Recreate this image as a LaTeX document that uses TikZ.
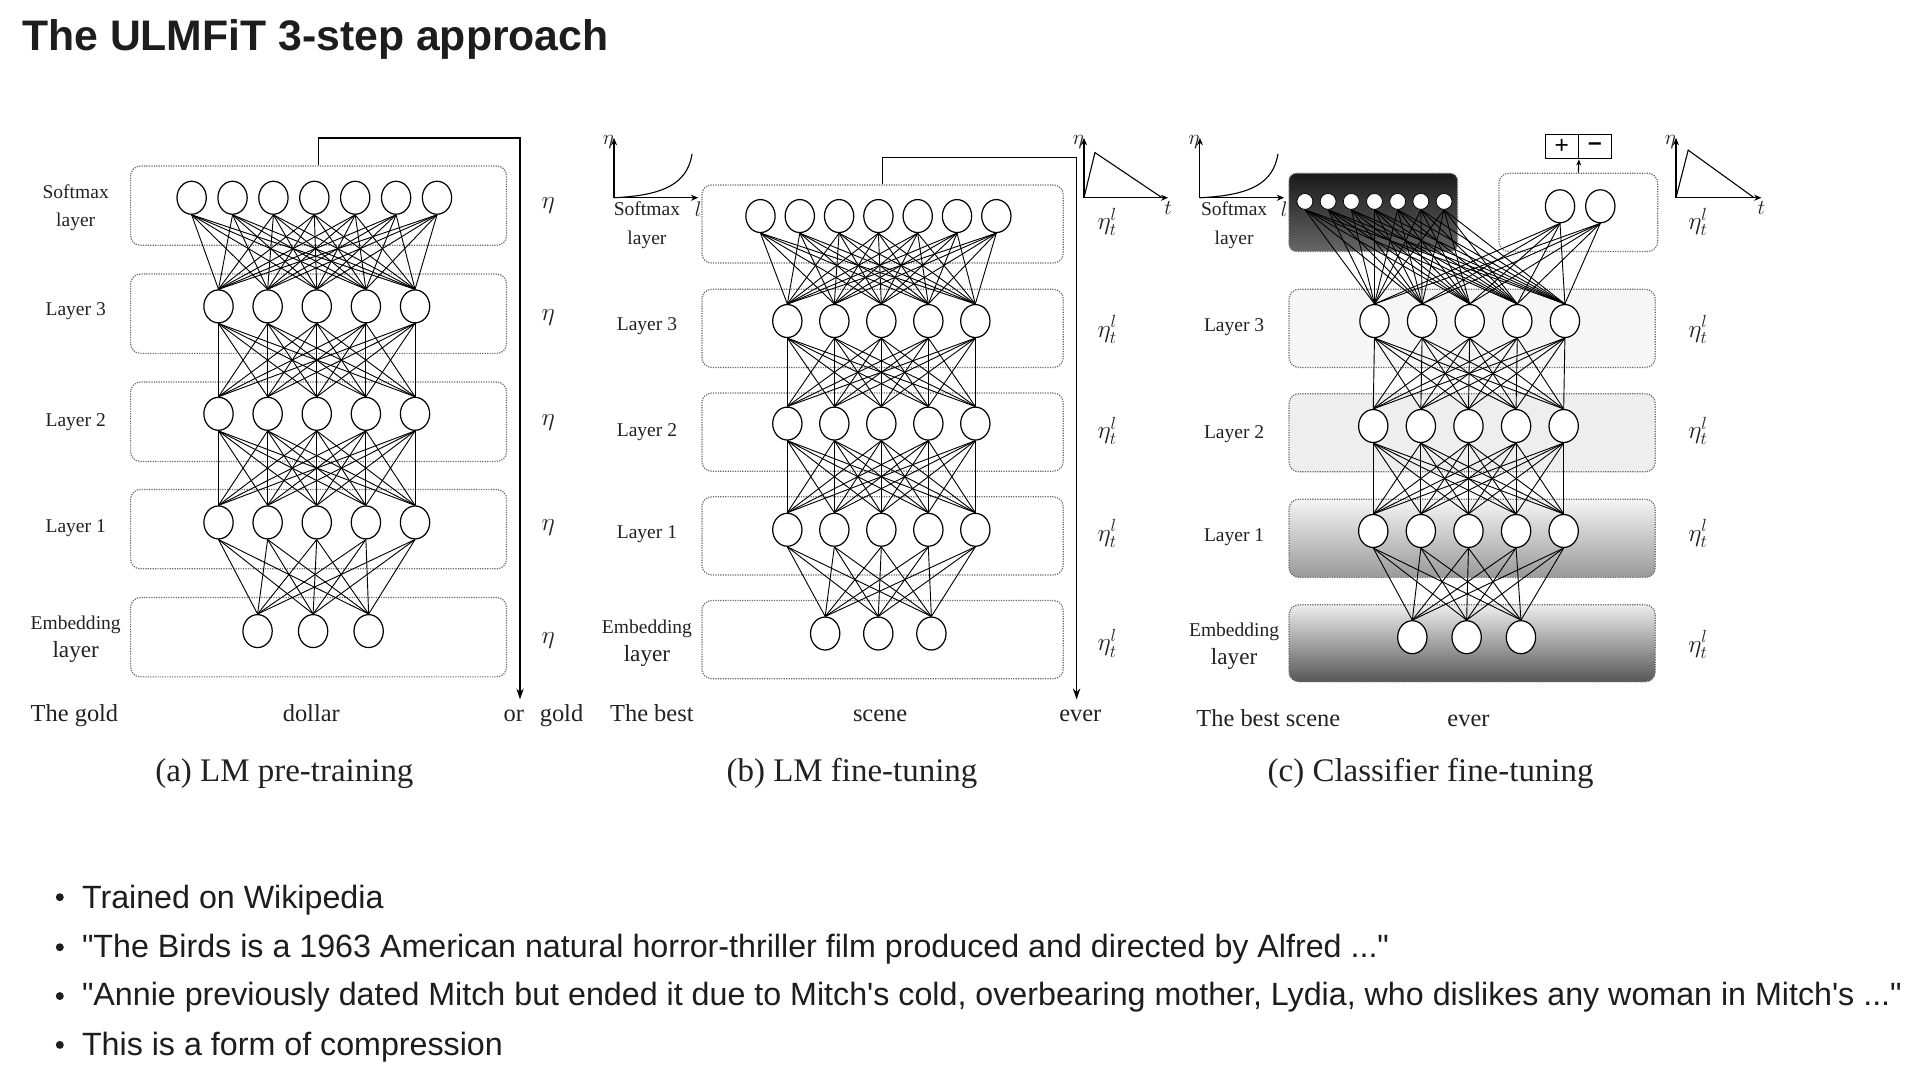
\documentclass[tikz,border=0pt]{standalone}
\usepackage{fontspec}
\setmainfont{Liberation Serif}
\newfontfamily\uifont{Liberation Sans}
\usetikzlibrary{arrows.meta,positioning,calc,shapes.geometric}

\definecolor{inkgray}{HTML}{222222}
\definecolor{dotline}{HTML}{6A6A6A}
\definecolor{uitext}{HTML}{1D1D1F}

\tikzset{
  unit/.style={draw,ellipse,minimum width=24pt,minimum height=27pt,inner sep=0pt,fill=white,line width=1pt},
  smallunit/.style={draw,circle,minimum size=13pt,inner sep=0pt,fill=white,line width=0.6pt},
  layerbox/.style={draw=dotline,densely dotted,rounded corners=8pt,line width=1pt,inner sep=0pt},
  link/.style={line width=0.75pt},
  rowlabel/.style={font=\fontsize{16}{23}\selectfont,text=inkgray,align=center},
  ratelabel/.style={font=\fontsize{20}{22}\selectfont,text=inkgray},
  axislabel/.style={font=\fontsize{18}{20}\selectfont,text=inkgray,inner sep=0pt},
  word/.style={font=\fontsize{20}{24}\selectfont,text=inkgray,anchor=base},
  subcap/.style={font=\fontsize{27}{30}\selectfont,text=inkgray,anchor=base},
  axis/.style={line width=0.9pt,-{Stealth[length=6pt,width=5pt]}},
  bigarrow/.style={line width=1pt,-{Stealth[length=9pt,width=6pt]}},
  bulletdot/.style={circle,fill=uitext,minimum size=6.5pt,inner sep=0pt},
  bullettext/.style={font=\uifont\fontsize{26.4}{30}\selectfont,text=uitext,anchor=base west,inner sep=0pt},
}

\begin{document}
\begin{tikzpicture}[x=1pt,y=-1pt,>=Stealth]
  \useasboundingbox[fill=white] (0,0) rectangle (1568,881);

  \node[font=\uifont\bfseries\fontsize{35}{40}\selectfont,text=uitext,anchor=base west,inner sep=0pt] (title) at (18,41) {The ULMFiT 3-step approach};

  % (a) LM pre-training
  \foreach \y [count=\r] in {168.5,257,345.5,433.5,522}
    \node[layerbox,minimum width=308pt,minimum height=65pt] (a-box\r) at (261,\y) {};
  \foreach \i in {1,...,7}
    \node[unit] (a-s\i) at ({157+33.5*(\i-1)},162) {};
  \foreach \i in {1,...,5} {
    \node[unit] (a-h3\i) at ({179+40.25*(\i-1)},251) {};
    \node[unit] (a-h2\i) at ({179+40.25*(\i-1)},339) {};
    \node[unit] (a-h1\i) at ({179+40.25*(\i-1)},428) {};
  }
  \foreach \i in {1,2,3}
    \node[unit] (a-e\i) at ({211+45.5*(\i-1)},517) {};
  \foreach \i in {1,...,7} \foreach \j in {1,...,5}
    \draw[link] (a-s\i.south) -- (a-h3\j.north);
  \foreach \i in {1,...,5} \foreach \j in {1,...,5} {
    \draw[link] (a-h3\i.south) -- (a-h2\j.north);
    \draw[link] (a-h2\i.south) -- (a-h1\j.north);
  }
  \foreach \i in {1,...,5} \foreach \j in {1,2,3}
    \draw[link] (a-h1\i.south) -- (a-e\j.north);
  \node[rowlabel] (a-l1) at (62,170) {Softmax\\layer};
  \node[rowlabel] (a-l2) at (62,255) {Layer 3};
  \node[rowlabel] (a-l3) at (62,346) {Layer 2};
  \node[rowlabel] (a-l4) at (62,433) {Layer 1};
  \node[rowlabel] (a-l5) at (62,524) {Embedding\\{\fontsize{19}{23}\selectfont layer}};
  \foreach \y [count=\r] in {168,260,346,432,525}
    \node[ratelabel] (a-eta\r) at (449,\y) {$\eta$};
  \coordinate (a-turn) at (426,113);
  \coordinate (a-end) at (426,573);
  \draw[bigarrow] (a-box1.north) |- (a-turn) -- (a-end);
  \node[word] (a-w1) at (61,591) {The gold};
  \node[word] (a-w2) at (255,591) {dollar};
  \node[word] (a-w3) at (421,591) {or};
  \node[word] (a-w4) at (460,591) {gold};
  \node[subcap] (a-cap) at (233,640) {(a) LM pre-training};

  % (b) LM fine-tuning
  \foreach \y [count=\r] in {183.5,269,354,439,524}
    \node[layerbox,minimum width=296pt,minimum height=64pt] (b-box\r) at (723,\y) {};
  \foreach \i in {1,...,7}
    \node[unit] (b-s\i) at ({623+32.2*(\i-1)},177) {};
  \foreach \i in {1,...,5} {
    \node[unit] (b-h3\i) at ({645+38.5*(\i-1)},263) {};
    \node[unit] (b-h2\i) at ({645+38.5*(\i-1)},347) {};
    \node[unit] (b-h1\i) at ({645+38.5*(\i-1)},434) {};
  }
  \foreach \i in {1,2,3}
    \node[unit] (b-e\i) at ({676+43.5*(\i-1)},519) {};
  \foreach \i in {1,...,7} \foreach \j in {1,...,5}
    \draw[link] (b-s\i.south) -- (b-h3\j.north);
  \foreach \i in {1,...,5} \foreach \j in {1,...,5} {
    \draw[link] (b-h3\i.south) -- (b-h2\j.north);
    \draw[link] (b-h2\i.south) -- (b-h1\j.north);
  }
  \foreach \i in {1,...,5} \foreach \j in {1,2,3}
    \draw[link] (b-h1\i.south) -- (b-e\j.north);
  \node[rowlabel] (b-l1) at (530,184.5) {Softmax\\layer};
  \node[rowlabel] (b-l2) at (530,267) {Layer 3};
  \node[rowlabel] (b-l3) at (530,354) {Layer 2};
  \node[rowlabel] (b-l4) at (530,438) {Layer 1};
  \node[rowlabel] (b-l5) at (530,527) {Embedding\\{\fontsize{19}{23}\selectfont layer}};
  \foreach \y [count=\r] in {182,270,353,437,527}
    \node[ratelabel] (b-eta\r) at (907,\y) {$\eta^{l}_{t}$};
  \coordinate (b-turn) at (882,129);
  \coordinate (b-end) at (882,573);
  \draw[bigarrow] (b-box1.north) |- (b-turn) -- (b-end);
  % schedule plots
  \coordinate (b-o1) at (503,162);
  \coordinate (b-y1) at (503,113);
  \coordinate (b-x1) at (572,162);
  \draw[axis] (b-o1) -- (b-y1);
  \draw[axis] (b-o1) -- (b-x1);
  \draw[line width=0.9pt] (b-o1) .. controls (545,160) and (563,150) .. (567,126);
  \node[axislabel,left=0pt of b-y1,yshift=-3pt] (b-n1) {$\eta$};
  \node[axislabel,below=3pt of b-x1] (b-t1) {$l$};
  \coordinate (b-o2) at (888,162);
  \coordinate (b-y2) at (888,113);
  \coordinate (b-x2) at (957,162);
  \draw[axis] (b-o2) -- (b-y2);
  \draw[axis] (b-o2) -- (b-x2);
  \draw[line width=0.9pt] (b-o2) -- (897,125) -- (952,162);
  \node[axislabel,left=0pt of b-y2,yshift=-3pt] (b-n2) {$\eta$};
  \node[axislabel,below=3pt of b-x2] (b-t2) {$t$};
  \node[word] (b-w1) at (534,591) {The best};
  \node[word] (b-w2) at (721,591) {scene};
  \node[word] (b-w3) at (885,591) {ever};
  \node[subcap] (b-cap) at (698,640) {(b) LM fine-tuning};

  % (c) Classifier fine-tuning
  \node[layerbox,fill=gray!7,minimum width=300pt,minimum height=64pt] (c-box2) at (1206,269) {};
  \node[layerbox,fill=gray!13,minimum width=300pt,minimum height=64pt] (c-box3) at (1206,354.5) {};
  \node[layerbox,top color=gray!8,bottom color=black!40,minimum width=300pt,minimum height=64pt] (c-box4) at (1206,441) {};
  \node[layerbox,top color=gray!14,bottom color=black!66,minimum width=300pt,minimum height=63pt] (c-box5) at (1206,527) {};
  \node[layerbox,top color=black!90,bottom color=black!60,rounded corners=6pt,minimum width=138pt,minimum height=64pt] (c-box1) at (1125,174) {};
  \node[layerbox,minimum width=130pt,minimum height=64pt] (c-cls) at (1293,174) {};
  \foreach \i in {1,...,7}
    \node[smallunit] (c-s\i) at ({1069+19*(\i-1)},165) {};
  \foreach \i in {1,2}
    \node[unit] (c-c\i) at ({1278+33*(\i-1)},169) {};
  \foreach \i in {1,...,5} {
    \node[unit] (c-h3\i) at ({1126+39*(\i-1)},263) {};
    \node[unit] (c-h2\i) at ({1125+39*(\i-1)},349) {};
    \node[unit] (c-h1\i) at ({1125+39*(\i-1)},435) {};
  }
  \foreach \i in {1,2,3}
    \node[unit] (c-e\i) at ({1157+44.5*(\i-1)},522) {};
  \foreach \i in {1,...,7} \foreach \j in {1,...,5}
    \draw[link] (c-s\i.south) -- (c-h3\j.north);
  \foreach \i in {1,2} \foreach \j in {1,...,5}
    \draw[link] (c-c\i.south) -- (c-h3\j.north);
  \foreach \i in {1,...,5} \foreach \j in {1,...,5} {
    \draw[link] (c-h3\i.south) -- (c-h2\j.north);
    \draw[link] (c-h2\i.south) -- (c-h1\j.north);
  }
  \foreach \i in {1,...,5} \foreach \j in {1,2,3}
    \draw[link] (c-h1\i.south) -- (c-e\j.north);
  \node[draw,line width=1pt,minimum width=27pt,minimum height=20pt,inner sep=0pt,font=\uifont\fontsize{20}{20}\selectfont] (c-plus) at (1279.5,120) {+};
  \node[draw,line width=1pt,minimum width=27pt,minimum height=20pt,inner sep=0pt,font=\uifont\bfseries\fontsize{20}{20}\selectfont] (c-minus) at (1306.5,120) {\textendash};
  \draw[line width=0.9pt,-{Stealth[length=5pt,width=4pt]}] (c-cls.north) -- (c-plus.south east);
  \node[rowlabel] (c-l1) at (1011,184.5) {Softmax\\layer};
  \node[rowlabel] (c-l2) at (1011,268) {Layer 3};
  \node[rowlabel] (c-l3) at (1011,356) {Layer 2};
  \node[rowlabel] (c-l4) at (1011,440) {Layer 1};
  \node[rowlabel] (c-l5) at (1011,529.5) {Embedding\\{\fontsize{19}{23}\selectfont layer}};
  \foreach \y [count=\r] in {182,270,353,437,528}
    \node[ratelabel] (c-eta\r) at (1391,\y) {$\eta^{l}_{t}$};
  \coordinate (c-o1) at (983,162);
  \coordinate (c-y1) at (983,113);
  \coordinate (c-x1) at (1052,162);
  \draw[axis] (c-o1) -- (c-y1);
  \draw[axis] (c-o1) -- (c-x1);
  \draw[line width=0.9pt] (c-o1) .. controls (1025,160) and (1043,150) .. (1047,126);
  \node[axislabel,left=0pt of c-y1,yshift=-3pt] (c-n1) {$\eta$};
  \node[axislabel,below=3pt of c-x1] (c-t1) {$l$};
  \coordinate (c-o2) at (1373,162);
  \coordinate (c-y2) at (1373,113);
  \coordinate (c-x2) at (1443,162);
  \draw[axis] (c-o2) -- (c-y2);
  \draw[axis] (c-o2) -- (c-x2);
  \draw[line width=0.9pt] (c-o2) -- (1383,123) -- (1437,162);
  \node[axislabel,left=0pt of c-y2,yshift=-3pt] (c-n2) {$\eta$};
  \node[axislabel,below=3pt of c-x2] (c-t2) {$t$};
  \node[word] (c-w1) at (1039,595) {The best scene};
  \node[word] (c-w2) at (1203,595) {ever};
  \node[subcap] (c-cap) at (1172,640) {(c) Classifier fine-tuning};

  % notes
  \foreach \y [count=\r] in {735,776,816,856}
    \node[bulletdot] (dot\r) at (49,\y) {};
  \node[bullettext] (note1) at (67,744) {Trained on Wikipedia};
  \node[bullettext] (note2) at (67,784) {"The Birds is a 1963 American natural horror-thriller film produced and directed by Alfred ..."};
  \node[bullettext] (note3) at (67,824) {"Annie previously dated Mitch but ended it due to Mitch's cold, overbearing mother, Lydia, who dislikes any woman in Mitch's ..."};
  \node[bullettext] (note4) at (67,865) {This is a form of compression};
\end{tikzpicture}
\end{document}
